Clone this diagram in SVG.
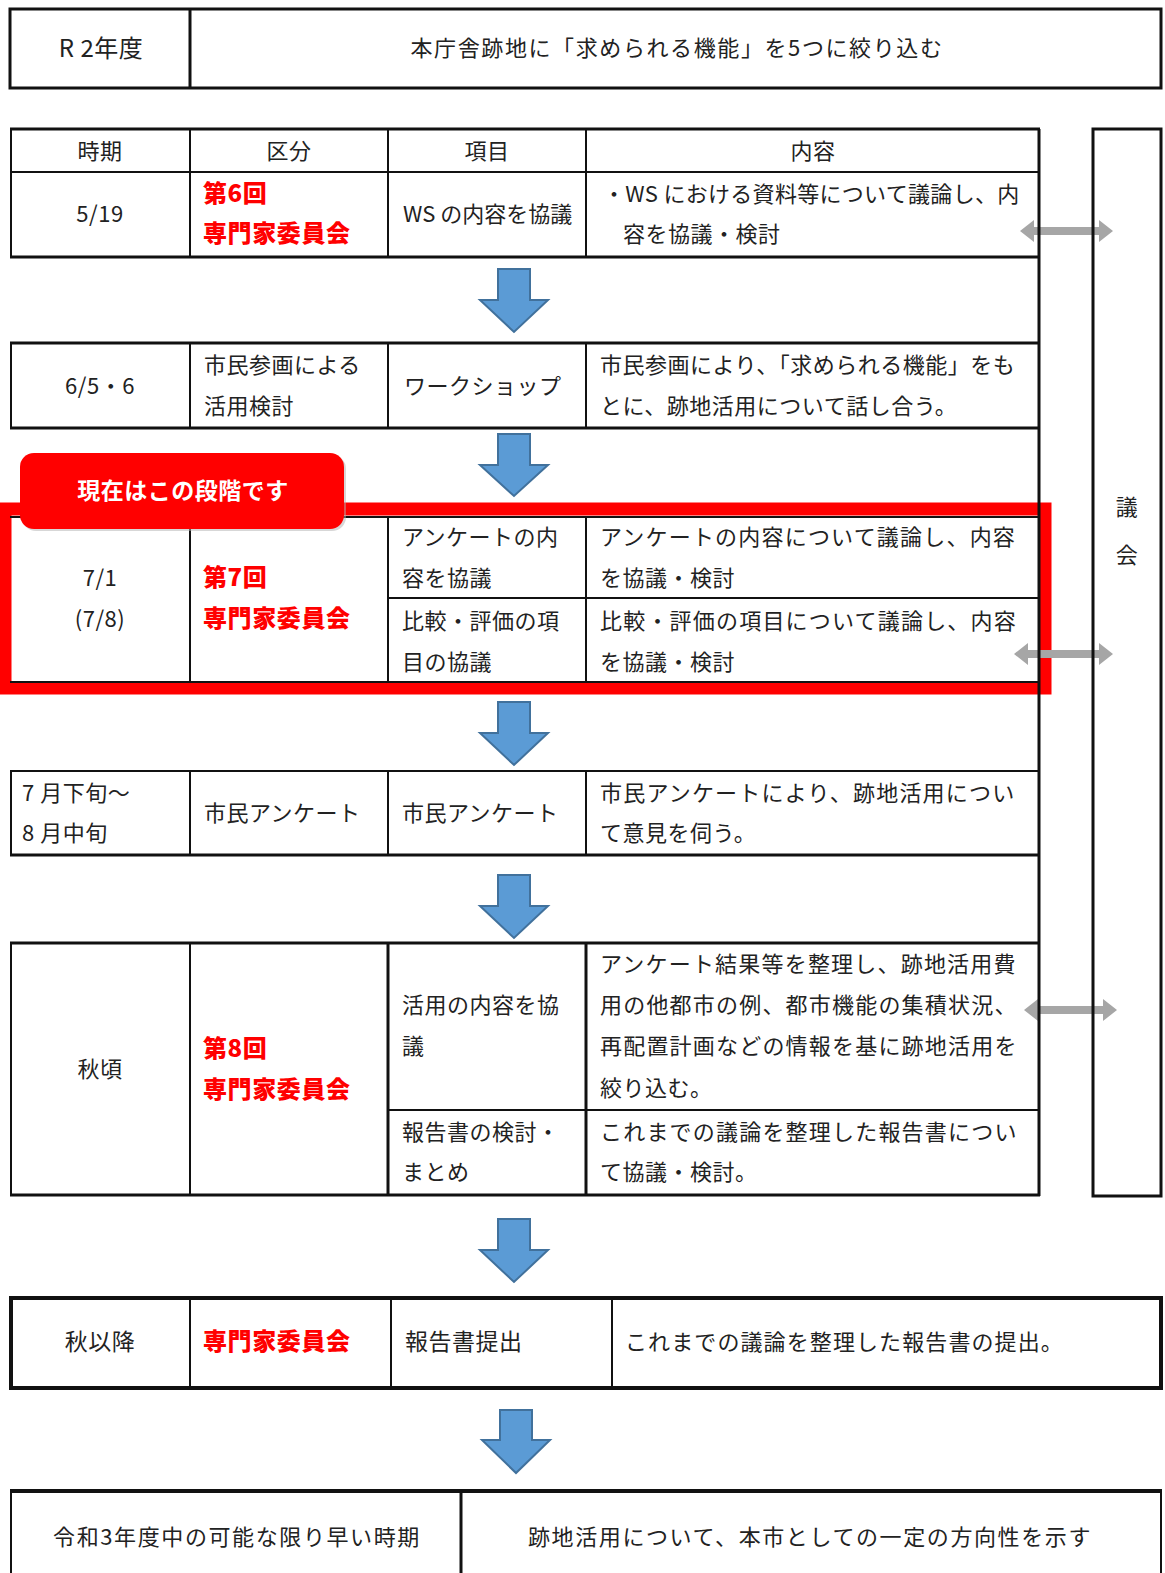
<svg xmlns="http://www.w3.org/2000/svg" width="1165" height="1573" viewBox="0 0 1165 1573">
<style>
text{font-family:"Noto Sans CJK JP","Noto Sans CJK SC",sans-serif;font-size:22px;fill:#222;letter-spacing:0.5px}
.c{text-anchor:middle}
.red{fill:#ff0000;font-weight:900;font-size:24px;letter-spacing:0.6px}
.badge{fill:#fff;font-weight:bold;font-size:23px;text-anchor:middle}
.b3{fill:none;stroke:#111;stroke-width:3}
.b2{fill:none;stroke:#111;stroke-width:2}
.ln{stroke:#111;stroke-width:2}
.lt{stroke:#111;stroke-width:3}
.blue{fill:#5b9bd5;stroke:#41719c;stroke-width:2}
.gray{fill:#a6a6a6}
</style>
<rect width="1165" height="1573" fill="#fff"/>

<g id="header-box">
<rect class="b3" x="10" y="9" width="1151" height="79"/>
<line class="lt" x1="190" y1="9" x2="190" y2="88"/>
<text class="c" x="101" y="57" style="font-size:24px">R 2年度</text>
<text class="c" x="677" y="56" style="letter-spacing:1.6px">本庁舎跡地に「求められる機能」を5つに絞り込む</text>
</g>

<g id="current-frame">
<rect x="5" y="509" width="1040" height="179" fill="none" stroke="#ff0000" stroke-width="13"/>
</g>

<g id="connectors">
<polygon class="blue" points="498,269 530,269 530,300 548,300 514,332 480,300 498,300"/>
<polygon class="blue" points="498,434 530,434 530,465 548,465 514,496 480,465 498,465"/>
<polygon class="blue" points="498,702 530,702 530,733 548,733 514,765 480,733 498,733"/>
<polygon class="blue" points="498,875 530,875 530,906 548,906 514,938 480,906 498,906"/>
<polygon class="blue" points="498,1219 530,1219 530,1250 548,1250 514,1282 480,1250 498,1250"/>
<polygon class="blue" points="500,1410 532,1410 532,1440 550,1440 516,1473 482,1440 500,1440"/>
<polygon class="gray" points="1020,231 1034,220 1034,227 1099,227 1099,220 1113,231 1099,242 1099,235 1034,235 1034,242"/>
<polygon class="gray" points="1014,654 1028,643 1028,650 1099,650 1099,643 1113,654 1099,665 1099,658 1028,658 1028,665"/>
<polygon class="gray" points="1024,1010 1038,999 1038,1006 1103,1006 1103,999 1117,1010 1103,1021 1103,1014 1038,1014 1038,1021"/>
</g>

<g id="table-header">
<line class="lt" x1="10" y1="129" x2="1040" y2="129"/>
<line class="ln" x1="10" y1="172" x2="1040" y2="172"/>
<line class="ln" x1="11" y1="129" x2="11" y2="257"/>
<line class="ln" x1="190" y1="129" x2="190" y2="257"/>
<line class="ln" x1="388" y1="129" x2="388" y2="257"/>
<line class="ln" x1="586" y1="129" x2="586" y2="257"/>
<text class="c" x="100" y="159">時期</text>
<text class="c" x="289" y="159">区分</text>
<text class="c" x="487" y="159">項目</text>
<text class="c" x="813" y="159">内容</text>
</g>

<g id="table-right-border">
<line class="lt" x1="1039" y1="129" x2="1039" y2="1196"/>
</g>

<g id="row-0519">
<line class="lt" x1="10" y1="257" x2="1040" y2="257"/>
<text class="c" x="100" y="222">5/19</text>
<text class="red" x="203" y="202">第6回</text>
<text class="red" x="203" y="242">専門家委員会</text>
<text x="403" y="222" style="letter-spacing:0">WS の内容を協議</text>
<text x="603" y="202" style="letter-spacing:0.3px">・WS における資料等について議論し、内</text>
<text x="623" y="242">容を協議・検討</text>
</g>

<g id="row-0605">
<line class="lt" x1="10" y1="343" x2="1040" y2="343"/>
<line class="lt" x1="10" y1="428" x2="1040" y2="428"/>
<line class="ln" x1="11" y1="343" x2="11" y2="428"/>
<line class="ln" x1="190" y1="343" x2="190" y2="428"/>
<line class="ln" x1="388" y1="343" x2="388" y2="428"/>
<line class="ln" x1="586" y1="343" x2="586" y2="428"/>
<text class="c" x="100" y="394">6/5・6</text>
<text x="204" y="373">市民参画による</text>
<text x="204" y="414">活用検討</text>
<text x="404" y="394">ワークショップ</text>
<text x="600" y="373">市民参画により、「求められる機能」をも</text>
<text x="600" y="414">とに、跡地活用について話し合う。</text>
</g>

<g id="row-0701">
<line class="ln" x1="10" y1="517" x2="1040" y2="517"/>
<line class="ln" x1="10" y1="682" x2="1040" y2="682"/>
<line class="ln" x1="190" y1="517" x2="190" y2="682"/>
<line class="ln" x1="388" y1="517" x2="388" y2="682"/>
<line class="ln" x1="586" y1="517" x2="586" y2="682"/>
<line class="ln" x1="388" y1="598" x2="1040" y2="598"/>
<text class="c" x="100" y="586">7/1</text>
<text class="c" x="100" y="627">(7/8)</text>
<text class="red" x="203" y="586">第7回</text>
<text class="red" x="203" y="627">専門家委員会</text>
<text x="402" y="545">アンケートの内</text>
<text x="402" y="586">容を協議</text>
<text x="402" y="629">比較・評価の項</text>
<text x="402" y="670">目の協議</text>
<text x="600" y="545" style="letter-spacing:1.2px">アンケートの内容について議論し、内容</text>
<text x="600" y="586">を協議・検討</text>
<text x="600" y="629" style="letter-spacing:1.2px">比較・評価の項目について議論し、内容</text>
<text x="600" y="670">を協議・検討</text>
</g>

<g id="badge">
<rect x="22" y="455" width="324" height="76" rx="14" fill="#b0b0b0" opacity="0.5"/>
<rect x="20" y="453" width="324" height="76" rx="14" fill="#ff0000"/>
<text class="badge" x="183" y="499">現在はこの段階です</text>
</g>

<g id="row-survey">
<line class="ln" x1="10" y1="771" x2="1040" y2="771"/>
<line class="lt" x1="10" y1="855" x2="1040" y2="855"/>
<line class="ln" x1="11" y1="771" x2="11" y2="855"/>
<line class="ln" x1="190" y1="771" x2="190" y2="855"/>
<line class="ln" x1="388" y1="771" x2="388" y2="855"/>
<line class="ln" x1="586" y1="771" x2="586" y2="855"/>
<text x="22" y="801">7 月下旬～</text>
<text x="22" y="841">8 月中旬</text>
<text x="204" y="821">市民アンケート</text>
<text x="402" y="821">市民アンケート</text>
<text x="600" y="801" style="letter-spacing:1.2px">市民アンケートにより、跡地活用につい</text>
<text x="600" y="841">て意見を伺う。</text>
</g>

<g id="row-autumn">
<line class="lt" x1="10" y1="943" x2="1040" y2="943"/>
<line class="lt" x1="10" y1="1195" x2="1040" y2="1195"/>
<line class="ln" x1="11" y1="943" x2="11" y2="1196"/>
<line class="ln" x1="190" y1="943" x2="190" y2="1196"/>
<line class="lt" x1="388" y1="943" x2="388" y2="1196"/>
<line class="lt" x1="586" y1="943" x2="586" y2="1196"/>
<line class="ln" x1="388" y1="1110" x2="1040" y2="1110"/>
<text class="c" x="100" y="1077">秋頃</text>
<text class="red" x="203" y="1057">第8回</text>
<text class="red" x="203" y="1098">専門家委員会</text>
<text x="402" y="1013">活用の内容を協</text>
<text x="402" y="1054">議</text>
<text x="402" y="1140">報告書の検討・</text>
<text x="402" y="1180">まとめ</text>
<text x="600" y="972" style="letter-spacing:1.2px">アンケート結果等を整理し、跡地活用費</text>
<text x="600" y="1013" style="letter-spacing:1.2px">用の他都市の例、都市機能の集積状況、</text>
<text x="600" y="1054" style="letter-spacing:1.2px">再配置計画などの情報を基に跡地活用を</text>
<text x="600" y="1096">絞り込む。</text>
<text x="600" y="1140" style="letter-spacing:1.2px">これまでの議論を整理した報告書につい</text>
<text x="600" y="1180">て協議・検討。</text>
</g>

<g id="council">
<rect class="b3" x="1093" y="129" width="68" height="1067"/>
<text class="c" x="1127" y="515">議</text>
<text class="c" x="1127" y="563">会</text>
</g>

<g id="row-after-autumn">
<rect class="b3" x="11" y="1298" width="1150" height="90" style="stroke-width:4"/>
<line class="ln" x1="190" y1="1298" x2="190" y2="1388"/>
<line class="ln" x1="391" y1="1298" x2="391" y2="1388"/>
<line class="ln" x1="612" y1="1298" x2="612" y2="1388"/>
<text class="c" x="100" y="1350" style="font-size:23px">秋以降</text>
<text class="red" x="203" y="1350">専門家委員会</text>
<text x="405" y="1350" style="font-size:23px">報告書提出</text>
<text x="625" y="1350" style="letter-spacing:1.1px">これまでの議論を整理した報告書の提出。</text>
</g>

<g id="row-final">
<line class="lt" x1="10" y1="1491" x2="1162" y2="1491" style="stroke-width:4"/>
<line class="ln" x1="11" y1="1491" x2="11" y2="1573"/>
<line class="lt" x1="461" y1="1491" x2="461" y2="1573"/>
<line class="ln" x1="1161" y1="1491" x2="1161" y2="1573"/>
<text class="c" x="237" y="1545" style="letter-spacing:1.6px">令和3年度中の可能な限り早い時期</text>
<text class="c" x="810" y="1545" style="letter-spacing:1.6px">跡地活用について、本市としての一定の方向性を示す</text>
</g>
</svg>
